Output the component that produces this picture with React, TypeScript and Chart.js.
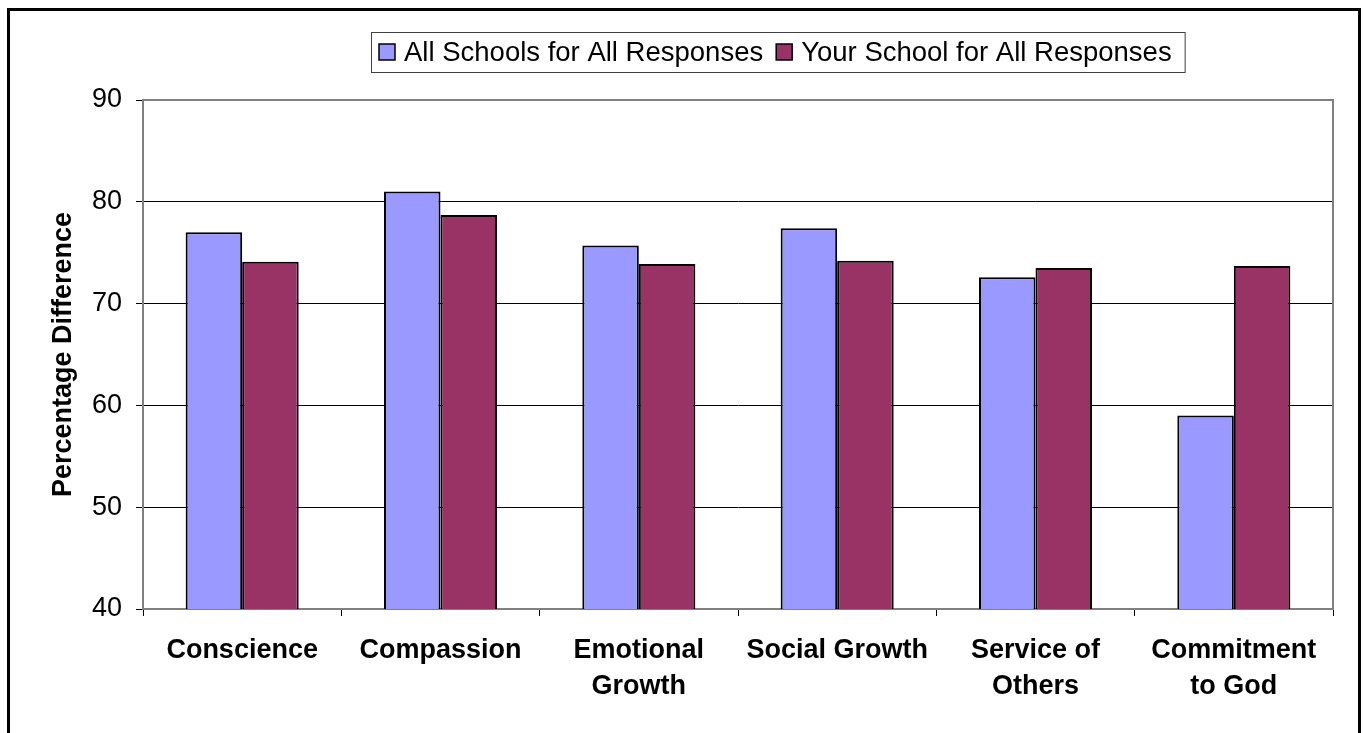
import React, { useEffect, useRef } from "react";
import { Chart, registerables } from "chart.js";

Chart.register(...registerables);

const categories: (string | string[])[] = [
  "Conscience",
  "Compassion",
  ["Emotional", "Growth"],
  "Social Growth",
  ["Service of", "Others"],
  ["Commitment", "to God"],
];
const allSchools = [77.0, 81.0, 75.7, 77.4, 72.6, 59.0];
const yourSchool = [74.1, 78.7, 73.9, 74.2, 73.5, 73.7];
const seriesNames = ["All Schools for All Responses", "Your School for All Responses"];
const seriesColors = ["#9999FF", "#993366"];
const yMin = 40;
const yMax = 90;
const yStep = 10;
const yTitle = "Percentage Difference";

const FONT = "'Liberation Sans', Arial, sans-serif";
const CANVAS_W = 1348;
const CANVAS_H = 740;

const frameLegendPlugin = {
  id: "frameLegend",
  afterDraw(chart: any) {
    const ctx = chart.ctx;
    const a = chart.chartArea;
    ctx.save();
    // plot border
    ctx.strokeStyle = "#808080";
    ctx.lineWidth = 2;
    ctx.beginPath();
    ctx.moveTo(a.left, a.top);
    ctx.lineTo(a.right, a.top);
    ctx.lineTo(a.right, a.bottom);
    ctx.stroke();
    // legend
    ctx.font = "27.5px " + FONT;
    const boxLeft = 361;
    const boxTop = 21;
    const boxH = 40;
    const sq = 16;
    let x = boxLeft + 8;
    const cy = boxTop + boxH / 2;
    const items: { x: number; w: number }[] = [];
    chart.data.datasets.forEach((ds: any) => {
      const w = ctx.measureText(ds.label).width;
      items.push({ x, w });
      x += 25 + w + 13;
    });
    const boxRight = x;
    ctx.fillStyle = "#ffffff";
    ctx.fillRect(boxLeft, boxTop, boxRight - boxLeft, boxH);
    ctx.strokeStyle = "#404040";
    ctx.lineWidth = 1;
    ctx.strokeRect(boxLeft + 0.5, boxTop + 0.5, boxRight - boxLeft, boxH);
    chart.data.datasets.forEach((ds: any, i: number) => {
      const it = items[i];
      ctx.fillStyle = ds.backgroundColor;
      ctx.fillRect(it.x, cy - sq / 2, sq, sq);
      ctx.strokeStyle = "#000";
      ctx.lineWidth = 1.5;
      ctx.strokeRect(it.x, cy - sq / 2, sq, sq);
      ctx.fillStyle = "#000";
      ctx.textBaseline = "middle";
      ctx.textAlign = "left";
      ctx.fillText(ds.label, it.x + 25, cy + 1);
    });
    ctx.restore();
  },
};

export default function App() {
  const ref = useRef<HTMLCanvasElement | null>(null);
  useEffect(() => {
    if (!ref.current) return;
    const chart = new Chart(ref.current, {
      type: "bar",
      data: {
        labels: categories,
        datasets: [
          {
            label: seriesNames[0],
            data: allSchools,
            backgroundColor: seriesColors[0],
            borderColor: "#000",
            borderWidth: 2,
            categoryPercentage: 0.57,
            barPercentage: 1.0,
          },
          {
            label: seriesNames[1],
            data: yourSchool,
            backgroundColor: seriesColors[1],
            borderColor: "#000",
            borderWidth: 2,
            categoryPercentage: 0.57,
            barPercentage: 1.0,
          },
        ],
      },
      options: {
        animation: false,
        responsive: false,
        maintainAspectRatio: false,
        layout: { padding: { top: 89, left: 0, right: 25, bottom: 0 } },
        plugins: {
          legend: { display: false },
          tooltip: { enabled: false },
        },
        scales: {
          x: {
            offset: true,
            grid: {
              offset: true,
              drawOnChartArea: false,
              drawTicks: true,
              tickLength: 7,
              color: "#000",
              lineWidth: 1,
            },
            border: { color: "#808080", width: 2 },
            ticks: {
              color: "#000",
              font: { family: FONT, size: 27, weight: "bold", lineHeight: 36 / 27 },
              padding: 17,
              maxRotation: 0,
              autoSkip: false,
            },
            afterFit(scale: any) {
              scale.height = CANVAS_H - 598;
            },
          },
          y: {
            min: yMin,
            max: yMax,
            ticks: {
              stepSize: yStep,
              color: "#000",
              font: { family: FONT, size: 27 },
              padding: 14,
            },
            grid: {
              color: "#000",
              lineWidth: 1,
              tickLength: 7,
            },
            border: { color: "#808080", width: 2 },
            title: {
              display: true,
              text: yTitle,
              color: "#000",
              font: { family: FONT, size: 27, weight: "bold", lineHeight: 1.2 },
              padding: { top: 37, bottom: 0 },
            },
            afterFit(scale: any) {
              scale.width = 133;
            },
          },
        },
      },
      plugins: [frameLegendPlugin],
    });
    return () => chart.destroy();
  }, []);
  return (
    <div
      style={{
        position: "fixed",
        left: 7,
        top: 8,
        border: "3px solid #000",
        width: CANVAS_W,
        height: CANVAS_H,
        background: "#fff",
        overflow: "hidden",
      }}
    >
      <canvas ref={ref} width={CANVAS_W} height={CANVAS_H} style={{ display: "block" }} />
    </div>
  );
}
